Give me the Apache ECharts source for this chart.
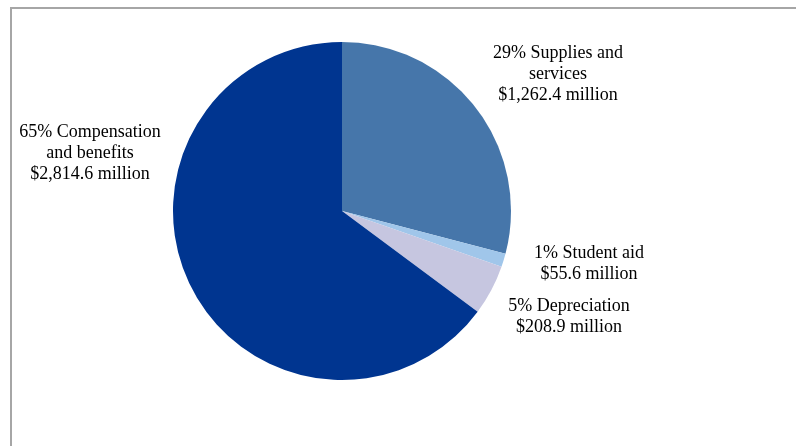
<!DOCTYPE html>
<html>
<head>
<meta charset="utf-8">
<script src="https://cdn.jsdelivr.net/npm/echarts@6/dist/echarts.min.js"></script>
<style>
    html, body { margin: 0; padding: 0; background: #fff; }
    #frame { position: absolute; left: 10px; top: 7px; width: 800px; height: 450px;
             border-left: 2px solid #a6a6a6; border-top: 2px solid #a6a6a6; }
    #expense_pie { position: absolute; left: 0; top: 0; width: 796px; height: 446px; }
</style>
</head>
<body>
<div id="frame"></div>
<div id="expense_pie"></div>
<script>
// Data
var categories = ['Supplies and services', 'Student aid', 'Depreciation', 'Compensation and benefits'];
var labelNames = ['Supplies and\nservices', 'Student aid', 'Depreciation', 'Compensation\nand benefits'];
var amounts = [1262.4, 55.6, 208.9, 2814.6];   // $ million

// Style
var sliceColors = ['#4676aa', '#a0c6ea', '#c6c6e0', '#003590'];
var labelPos = [[558, 74], [589, 264], [569, 317], [90, 153]];

document.addEventListener('DOMContentLoaded', function() {
    var el = document.getElementById('expense_pie');
    var chart = echarts.init(el);

    var fmtMoney = function(v) {
        return '$' + v.toLocaleString('en-US', {minimumFractionDigits: 1, maximumFractionDigits: 1}) + ' million';
    };

    chart.setOption({
        animation: false,
        textStyle: { fontFamily: '"Liberation Serif", "DejaVu Serif", serif' },
        series: [{
            type: 'pie',
            center: [342, 211],
            radius: 169,
            startAngle: 90,
            clockwise: true,
            percentPrecision: 0,
            data: categories.map(function(c, i) {
                return { name: c, value: amounts[i], itemStyle: { color: sliceColors[i] } };
            }),
            itemStyle: { borderWidth: 0 },
            label: {
                show: true,
                color: '#000',
                fontSize: 18,
                lineHeight: 21,
                align: 'center',
                overflow: 'none',
                fontFamily: '"Liberation Serif", serif',
                formatter: function(p) {
                    return Math.round(p.percent) + '% ' + labelNames[p.dataIndex] + '\n' + fmtMoney(p.value);
                }
            },
            labelLine: { show: false },
            labelLayout: function(p) {
                var pos = labelPos[p.dataIndex];
                return { x: pos[0], y: pos[1], align: 'center', verticalAlign: 'middle' };
            }
        }]
    });
});
</script>
</body>
</html>
